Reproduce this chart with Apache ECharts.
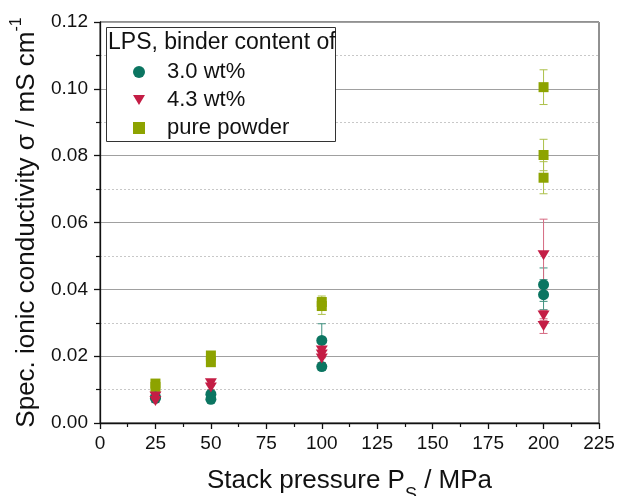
<!DOCTYPE html>
<html><head><meta charset="utf-8">
<script src="https://cdn.jsdelivr.net/npm/echarts@6/dist/echarts.min.js"></script>
<style>html,body{margin:0;padding:0;background:#fff}#c{width:617px;height:496px}</style>
</head><body><div id="c"></div>
<script>
// ---- data ----
const xTicks = [0,25,50,75,100,125,150,175,200,225];
const yTicks = [0.00,0.02,0.04,0.06,0.08,0.10,0.12];
const tealName = '3.0 wt%';
const tealX   = [25, 25, 50, 50, 100, 100, 200, 200];
const tealY   = [0.0078, 0.0074, 0.0086, 0.0071, 0.0247, 0.0169, 0.0414, 0.0384];
const tealErr = [0.0005, 0.0005, 0.0006, 0.0005, 0.0050, 0.0012, 0.0050, 0.0045];
const redName = '4.3 wt%';
const redX   = [25, 25, 50, 50, 100, 100, 100, 200, 200, 200];
const redY   = [0.0079, 0.0066, 0.0119, 0.0106, 0.0217, 0.0205, 0.0193, 0.0502, 0.0322, 0.0290];
const redErr = [0.0005, 0.0005, 0.0006, 0.0006, 0.0012, 0.0010, 0.0012, 0.0108, 0.0015, 0.0022];
const pureName = 'pure powder';
const pureX   = [25, 25, 50, 50, 100, 100, 200, 200, 200];
const pureY   = [0.0118, 0.0108, 0.0202, 0.0182, 0.0362, 0.0350, 0.1005, 0.0802, 0.0734];
const pureErr = [0.0006, 0.0005, 0.0006, 0.0006, 0.0018, 0.0025, 0.0052, 0.0047, 0.0048];
const legendTitle = 'LPS, binder content of';

// ---- build ----
const FONT = '"Liberation Sans", Arial, sans-serif';
const triDown = 'path://M0,0 L12,0 L6,10 Z';
function pts(xs, ys, es){ return xs.map((x,i)=>[x, ys[i], es[i]]); }
function errSeries(name, xs, ys, es, color){
  return {
    type:'custom', name: name + ' err', data: pts(xs,ys,es), z: 3,
    renderItem: function(params, api){
      const x = api.value(0), y = api.value(1), e = api.value(2);
      const t = api.coord([x, y + e]), b = api.coord([x, y - e]);
      const cw = 4;
      const st = {stroke: color, lineWidth: 1};
      return {type:'group', children:[
        {type:'line', shape:{x1:t[0],y1:t[1],x2:b[0],y2:b[1]}, style:st},
        {type:'line', shape:{x1:t[0]-cw,y1:t[1],x2:t[0]+cw,y2:t[1]}, style:st},
        {type:'line', shape:{x1:b[0]-cw,y1:b[1],x2:b[0]+cw,y2:b[1]}, style:st}
      ]};
    }
  };
}
const cTeal = '#0b7561', cRed = '#c41d45', cPure = '#8da300';

const chart = echarts.init(document.getElementById('c'), null, {renderer:'canvas'});
chart.setOption({
  backgroundColor:'#fff',
  animation:false,
  textStyle:{fontFamily:FONT},
  grid:{left:100, top:22, right:18, bottom:73, show:true, borderColor:'#222', borderWidth:1,
        containLabel:false, outerBoundsMode:'none'},
  xAxis:{
    type:'value', min:xTicks[0], max:xTicks[xTicks.length-1], interval:25,
    axisLine:{onZero:false, lineStyle:{color:'#111', width:1.3}},
    axisTick:{show:true, inside:false, length:6, lineStyle:{color:'#111', width:1.3}},
    minorTick:{show:true, splitNumber:2, length:4, lineStyle:{color:'#111', width:1.2}},
    splitLine:{show:false},
    axisLabel:{fontSize:19, color:'#111', margin:11, fontFamily:FONT},
    name:'{a|Stack pressure P}{s|S}{a| / MPa}', nameLocation:'middle', nameGap:45,
    nameTextStyle:{fontFamily:FONT, color:'#111', rich:{
      a:{fontSize:26, fontFamily:FONT, color:'#111', lineHeight:36, verticalAlign:'top'},
      s:{fontSize:18, fontFamily:FONT, color:'#111', lineHeight:18, verticalAlign:'bottom'}
    }}
  },
  yAxis:{
    type:'value', min:yTicks[0], max:yTicks[yTicks.length-1], interval:0.02,
    axisLine:{onZero:false, lineStyle:{color:'#111', width:1.3}},
    axisTick:{show:true, inside:false, length:6, lineStyle:{color:'#111', width:1.3}},
    minorTick:{show:true, splitNumber:2, length:4, lineStyle:{color:'#111', width:1.2}},
    splitLine:{show:true, lineStyle:{color:'#a0a0a0', width:1}},
    minorSplitLine:{show:true, lineStyle:{color:'#c8c8c8', width:1, type:[2,2]}},
    axisLabel:{fontSize:19, color:'#111', margin:12, fontFamily:FONT, formatter:v=>v.toFixed(2)},
    name:'{a|Spec. ionic conductivity σ / mS cm}{p|-1}', nameLocation:'middle', nameRotate:90, nameGap:49,
    nameTextStyle:{fontFamily:FONT, color:'#111', rich:{
      a:{fontSize:26, fontFamily:FONT, color:'#111', lineHeight:32, verticalAlign:'bottom'},
      p:{fontSize:16, fontFamily:FONT, color:'#111', lineHeight:16, verticalAlign:'top'}
    }}
  },
  legend:{
    orient:'vertical', left:128, top:53, itemWidth:12, itemHeight:12, itemGap:0, z:20,
    selectedMode:false,
    textStyle:{fontSize:22, color:'#111', fontFamily:FONT, lineHeight:28, padding:[0,0,0,17]},
    data:[
      {name:tealName, icon:'circle'},
      {name:redName, icon:triDown},
      {name:pureName, icon:'rect'}
    ]
  },
  graphic:[
    {type:'rect', left:106, top:27, z:5, shape:{width:229, height:114}, style:{fill:'#fff', stroke:'#333', lineWidth:1}},
    {type:'text', left:108, top:31, z:21, style:{text:legendTitle, font:'23px '+FONT, fill:'#111'}}
  ],
  series:[
    errSeries(pureName, pureX, pureY, pureErr, '#adc04a'),
    {type:'scatter', name:pureName, data:pts(pureX,pureY,pureErr), symbol:'rect', symbolSize:10, itemStyle:{color:cPure, opacity:1}, z:4},
    errSeries(tealName, tealX, tealY, tealErr, '#3f917f'),
    {type:'scatter', name:tealName, data:pts(tealX,tealY,tealErr), symbol:'circle', symbolSize:11, itemStyle:{color:cTeal, opacity:1}, z:4},
    errSeries(redName, redX, redY, redErr, '#d66a82'),
    {type:'scatter', name:redName, data:pts(redX,redY,redErr), symbol:triDown, symbolSize:[12,10], itemStyle:{color:cRed, opacity:1}, z:4}
  ]
});
</script></body></html>
